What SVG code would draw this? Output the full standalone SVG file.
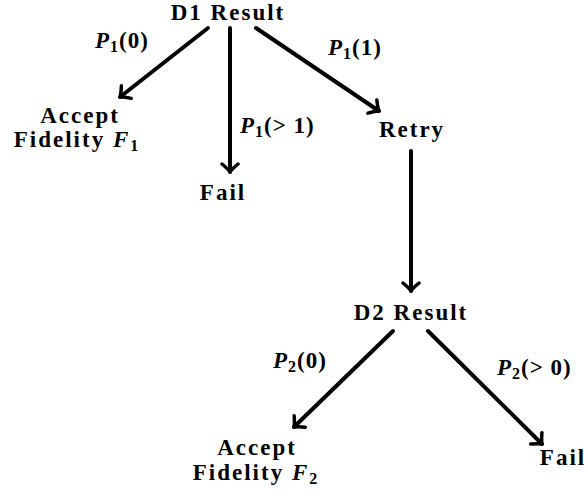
<svg xmlns="http://www.w3.org/2000/svg" width="585" height="493" viewBox="0 0 585 493">
<style>
.t{font-family:"Liberation Serif","Times New Roman",serif;font-weight:bold;font-size:23px;letter-spacing:2px;fill:#000;text-anchor:middle}
.m{font-family:"Liberation Serif","Times New Roman",serif;font-weight:bold;font-size:23px;letter-spacing:1px;fill:#000}
.i{font-style:italic}
.s{font-size:16px}
.e{stroke:#000;stroke-width:4;fill:none;stroke-linecap:round}
</style>
<defs>
<marker id="ah" viewBox="-10 -10 12 20" markerWidth="12" markerHeight="20" refX="0" refY="0" orient="auto" markerUnits="userSpaceOnUse">
<path d="M-8,-8 Q-3,-2 0,0 Q-3,2 -8,8" fill="none" stroke="#000" stroke-width="3.5" stroke-linecap="round" stroke-linejoin="round"/>
</marker>
</defs>
<g id="connectors">
<line class="e" x1="208" y1="28" x2="120" y2="97" marker-end="url(#ah)"/>
<line class="e" x1="230" y1="28" x2="230" y2="172" marker-end="url(#ah)"/>
<line class="e" x1="256" y1="28" x2="379" y2="111" marker-end="url(#ah)"/>
<line class="e" x1="411" y1="151" x2="411" y2="291" marker-end="url(#ah)"/>
<line class="e" x1="393" y1="331" x2="294" y2="427" marker-end="url(#ah)"/>
<line class="e" x1="428" y1="331" x2="542" y2="444" marker-end="url(#ah)"/>
</g>
<g id="labels">
<text class="m" x="95" y="48"><tspan class="i">P</tspan><tspan class="s" dy="4">1</tspan><tspan dy="-4">(0)</tspan></text>
<text class="m" x="240" y="133"><tspan class="i">P</tspan><tspan class="s" dy="4">1</tspan><tspan dy="-4">(&gt; 1)</tspan></text>
<text class="m" x="328" y="55"><tspan class="i">P</tspan><tspan class="s" dy="4">1</tspan><tspan dy="-4">(1)</tspan></text>
<text class="m" x="273" y="368"><tspan class="i">P</tspan><tspan class="s" dy="4">2</tspan><tspan dy="-4">(0)</tspan></text>
<text class="m" x="497" y="375"><tspan class="i">P</tspan><tspan class="s" dy="4">2</tspan><tspan dy="-4">(&gt; 0)</tspan></text>
</g>
<g id="d1"><text class="t" x="228" y="20">D1 Result</text></g>
<g id="accept1"><text class="t" x="80" y="123">Accept</text><text class="t" x="77" y="147">Fidelity <tspan class="i">F</tspan><tspan class="s" dy="4">1</tspan></text></g>
<g id="fail1"><text class="t" x="223" y="200">Fail</text></g>
<g id="retry"><text class="t" x="412" y="137">Retry</text></g>
<g id="d2"><text class="t" x="411" y="320">D2 Result</text></g>
<g id="accept2"><text class="t" x="257" y="455">Accept</text><text class="t" x="256" y="480">Fidelity <tspan class="i">F</tspan><tspan class="s" dy="4">2</tspan></text></g>
<g id="fail2"><text class="t" x="563" y="465">Fail</text></g>
</svg>
